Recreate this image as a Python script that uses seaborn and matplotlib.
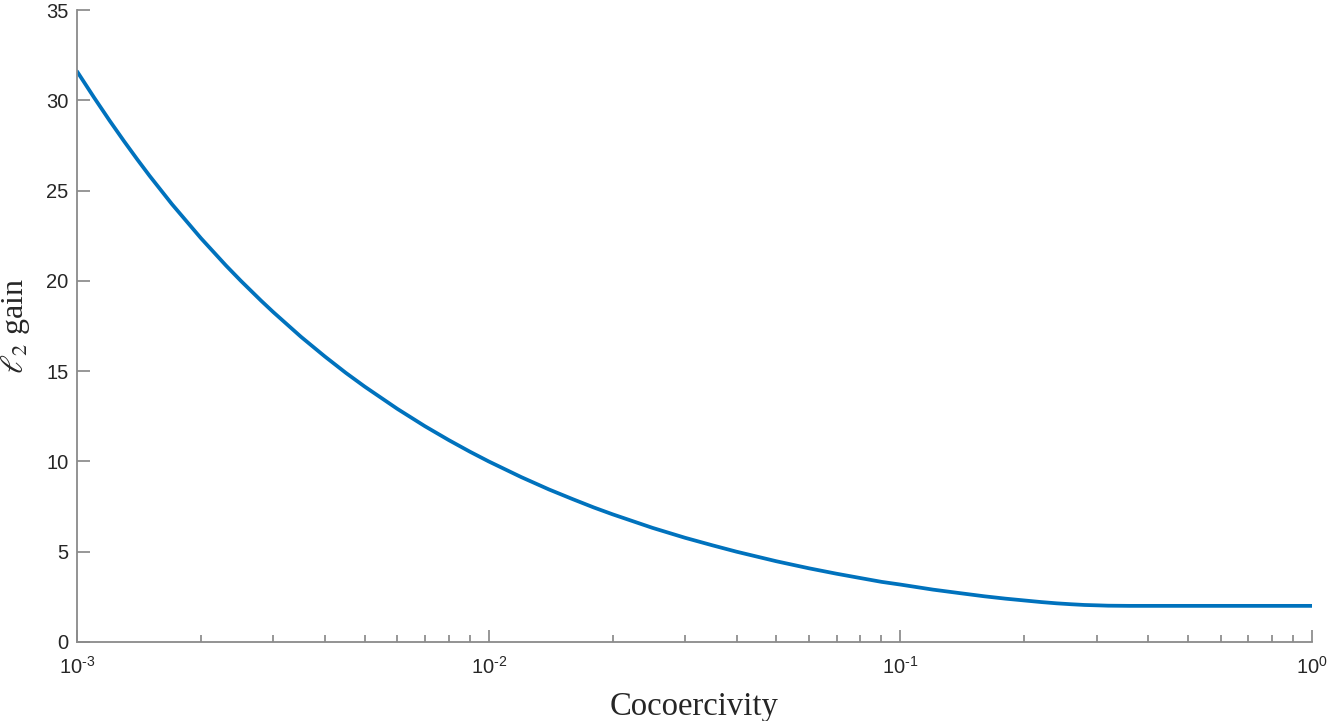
import matplotlib
matplotlib.use('Agg')
import matplotlib.pyplot as plt
from matplotlib.ticker import FixedLocator, FixedFormatter
import numpy as np
import pandas as pd
import seaborn as sns

# values
cocoercivity = [0.001, 0.0011, 0.0012, 0.0013, 0.0014, 0.0015, 0.0017, 0.002, 0.0023,
                0.0025, 0.0028, 0.003, 0.0035, 0.004, 0.0045, 0.005, 0.006, 0.007,
                0.008, 0.009, 0.01, 0.012, 0.014, 0.016, 0.018, 0.02, 0.025, 0.03,
                0.035, 0.04, 0.05, 0.06, 0.07, 0.08, 0.09, 0.1, 0.12, 0.14, 0.16,
                0.18, 0.2, 0.22, 0.24, 0.26, 0.28, 0.3, 0.32, 0.34, 0.36, 0.4,
                0.5, 0.7, 1.0]
l2_gain = [31.6, 30.15, 28.87, 27.74, 26.73, 25.82, 24.25, 22.36, 20.85,
           20.0, 18.9, 18.26, 16.9, 15.81, 14.9, 14.14, 12.91, 11.95,
           11.18, 10.54, 10.0, 9.13, 8.45, 7.91, 7.45, 7.07, 6.32, 5.77,
           5.35, 5.0, 4.47, 4.08, 3.78, 3.54, 3.33, 3.18, 2.9, 2.7, 2.53,
           2.4, 2.3, 2.21, 2.14, 2.09, 2.05, 2.03, 2.01, 2.005, 2.0, 2.0,
           2.0, 2.0, 2.0]
x_ticks = [1e-3, 1e-2, 1e-1, 1e0]
x_tick_labels = [r'$10^{\text{-}3}$', r'$10^{\text{-}2}$', r'$10^{\text{-}1}$', r'$10^{0}$']

df = pd.DataFrame({'Cocoercivity': cocoercivity, 'gain': l2_gain})

sns.set_style('ticks')
plt.rcParams['font.family'] = ['Liberation Sans', 'DejaVu Sans']
plt.rcParams['mathtext.fontset'] = 'custom'
plt.rcParams['mathtext.rm'] = 'Liberation Sans'
plt.rcParams['mathtext.it'] = 'Liberation Sans:italic'
plt.rcParams['axes.unicode_minus'] = False

fig = plt.figure(figsize=(13.31, 7.21), dpi=100)
ax = fig.add_axes([0.0579, 0.1096, 0.9278, 0.8765])

sns.lineplot(data=df, x='Cocoercivity', y='gain', color='#0072BD', linewidth=2.7, ax=ax)

ax.set_xscale('log')
ax.set_xlim(1e-3, 1)
ax.set_ylim(0, 35)
ax.set_yticks(np.arange(0, 36, 5))
ax.xaxis.set_major_locator(FixedLocator(x_ticks))
ax.xaxis.set_major_formatter(FixedFormatter(x_tick_labels))

ax.set_xlabel('Cocoercivity', family='Liberation Serif', fontsize=23.5, labelpad=10)
ax.set_ylabel(r'$\ell_2$ gain', family='Liberation Serif', math_fontfamily='stix',
              fontsize=23, labelpad=10)

for side in ['top', 'right']:
    ax.spines[side].set_visible(False)
for side in ['left', 'bottom']:
    ax.spines[side].set_color('#8a8a8a')
    ax.spines[side].set_linewidth(1.3)

ax.tick_params(which='major', direction='in', length=9, width=1.1, color='#7a7a7a',
               labelsize=14.5, labelcolor='#262626', pad=6)
ax.tick_params(axis='x', which='major', pad=10)
ax.tick_params(which='minor', direction='in', length=5, width=1.1, color='#7a7a7a')
ax.tick_params(axis='y', which='minor', left=False)

fig.savefig('out.png', dpi=100)
